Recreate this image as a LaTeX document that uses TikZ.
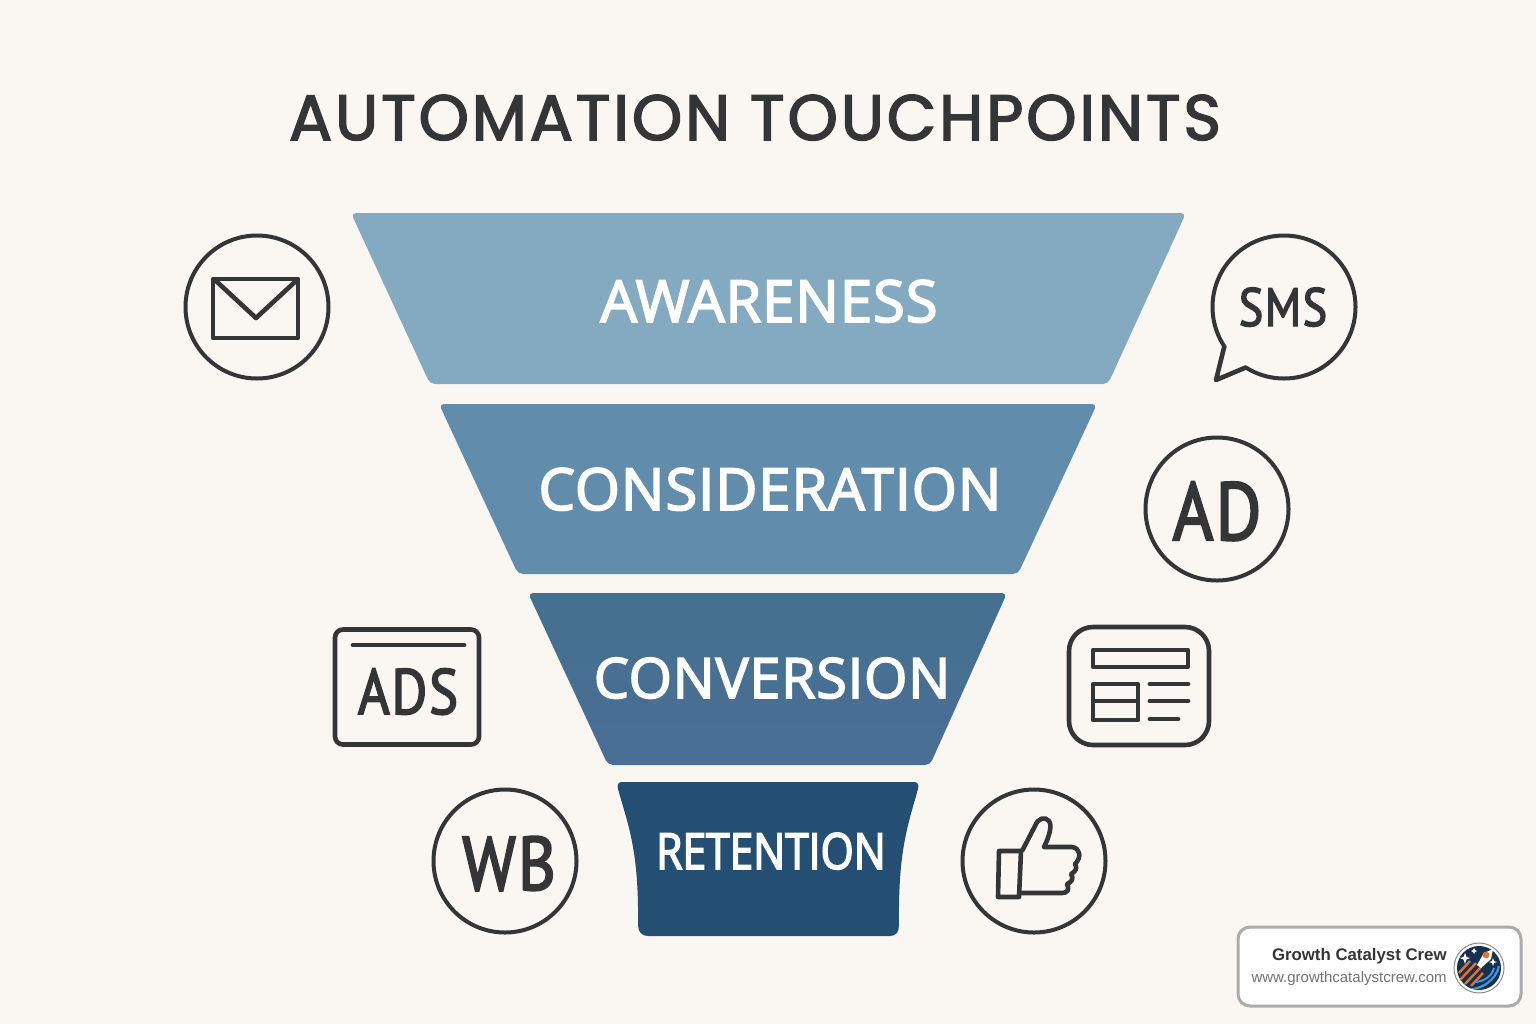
\documentclass[tikz,border=0pt]{standalone}
\usepackage{fontspec}
\setmainfont{Open Sans}
\newfontfamily\titlefont[LetterSpace=4.5,FakeBold=2.4]{Poppins}
\newfontfamily\labelfont[FakeBold=3,LetterSpace=1.5]{Open Sans}
\newfontfamily\narrowfont[FakeBold=3,FakeStretch=0.85]{Open Sans}
\newfontfamily\glyphfont[FakeBold=2.5,FakeStretch=0.85,LetterSpace=3]{PT Sans}
\newfontfamily\badgefont{Liberation Sans}
\definecolor{paper}{HTML}{FAF7F3}
\definecolor{ink}{HTML}{333537}
\definecolor{bandA}{HTML}{84AAC2}
\definecolor{bandB}{HTML}{628CAC}
\definecolor{bandC}{HTML}{44708F}
\definecolor{bandCb}{HTML}{4A6F95}
\definecolor{bandD}{HTML}{244F72}
\definecolor{logonavy}{HTML}{16304F}
\definecolor{logoblue}{HTML}{3F97DC}
\definecolor{logoorange}{HTML}{E8722A}
\begin{document}
\begin{tikzpicture}[x=0.5pt,y=-0.5pt,
ring/.style={circle,draw=ink,line width=2pt,minimum size=71.5pt,inner sep=0pt},
outline/.style={draw=ink,line width=2.3pt,line join=round},
strip/.style={draw=ink,line width=2.4pt,line cap=round},
band/.style={rounded corners=2.5pt},
bandlabel/.style={text=white,inner sep=0pt,anchor=base},
glyph/.style={text=ink,inner sep=0pt,anchor=base}]

\fill[paper] (0,0) rectangle (1536,1024);
\useasboundingbox (0,0) rectangle (1536,1024);

\node(title)[text=ink,inner sep=0pt,anchor=base] at (755,140) {\fontsize{32}{36}\titlefont AUTOMATION TOUCHPOINTS};

\fill[band,bandA] (351,213) -- (1186,213) -- (1108,384) -- (430,384) -- cycle;
\fill[band,bandB] (439,404) -- (1097,404) -- (1018,574) -- (518,574) -- cycle;
\shade[band,top color=bandC,bottom color=bandCb] (528,593) -- (1007,593) -- (930,765) -- (608,765) -- cycle;
\fill[bandD] (622,782) -- (914,782) .. controls (918,782) and (919,785) .. (918,789) .. controls (908,825) and (898,850) .. (899,925) .. controls (899,932) and (896,936) .. (890,936) -- (648,936) .. controls (642,936) and (638,932) .. (638,925) .. controls (639,850) and (628,825) .. (618,789) .. controls (617,785) and (618,782) .. (622,782) -- cycle;

\node(awareness)[bandlabel] at (769,322) {\fontsize{29}{32}\labelfont AWARENESS};
\node(consideration)[bandlabel] at (770,510) {\fontsize{29}{32}\labelfont CONSIDERATION};
\node(conversion)[bandlabel] at (772,698) {\fontsize{27.8}{32}\labelfont CONVERSION};
\node(retention)[bandlabel] at (771,869) {\fontsize{25}{28}\narrowfont RETENTION};

\node(mail)[ring] at (257,307) {};
\draw[outline] (213,279) rectangle (298,338);
\draw[outline] (215,280) -- (256,318) -- (297,280);

\node(sms)[ring] at (1284,307) {};
\fill[paper] (1227,344) -- (1216,380) -- (1248,364.7) -- cycle;
\draw[outline] (1224.5,345.7) -- (1216,380) -- (1246.4,367.2);
\node(smstext)[glyph] at (1283,326) {\fontsize{27}{30}\glyphfont SMS};

\node(ad)[ring] at (1217,509) {};
\node(adtext)[glyph] at (1217,540) {\fontsize{41}{44}\glyphfont AD};

\node(ads)[outline,rectangle,rounded corners=4pt,minimum width=72pt,minimum height=57.5pt,inner sep=0pt] at (407,687) {};
\draw[strip] (353,645) -- (464,645);
\node(adstext)[glyph] at (408,714) {\fontsize{32}{35}\glyphfont ADS};

\node(news)[outline,rectangle,rounded corners=12pt,minimum width=70pt,minimum height=59pt,inner sep=0pt] at (1139,686) {};
\draw[outline] (1093,650) rectangle (1188,667);
\draw[outline] (1093,684) rectangle (1138,720);
\draw[outline] (1093,701) -- (1138,701);
\draw[strip] (1150,684) -- (1188,684);
\draw[strip] (1150,701) -- (1188,701);
\draw[strip] (1150,719) -- (1178,719);

\node(wb)[ring] at (505,861) {};
\node(wbtext)[glyph] at (509,890) {\fontsize{38}{41}\glyphfont WB};

\node(like)[ring] at (1034,861) {};
\draw[outline] (999,851) -- (1021,851) -- (1019,897) -- (998,897) -- cycle;
\draw[outline] (1022,851) -- (1035,826) .. controls (1038,818) and (1045,816) .. (1049,821) .. controls (1052,825) and (1050,835) .. (1044,847) -- (1072,847) .. controls (1080,848) and (1082,857) .. (1075,864) .. controls (1078,868) and (1075,872) .. (1071,874) .. controls (1074,878) and (1072,882) .. (1067,884) .. controls (1070,890) and (1067,893) .. (1062,893) -- (1020,893);

\fill[white,rounded corners=6pt] (1238,927) rectangle (1521,1006);
\draw[draw=black!33,line width=1.5pt,rounded corners=6pt] (1238,927) rectangle (1521,1006);
\node(brand)[text=ink,inner sep=0pt,anchor=base east] at (1447,960) {\fontsize{8.4}{10}\badgefont\bfseries Growth Catalyst Crew};
\node(site)[text=black!55,inner sep=0pt,anchor=base east] at (1447,982) {\fontsize{7.5}{10}\badgefont www.growthcatalystcrew.com};

\node(logo)[circle,draw=black!45,fill=white,line width=0.5pt,minimum size=25pt,inner sep=0pt] at (1479,968) {};
\node(logoback)[circle,fill=logonavy,minimum size=22pt,inner sep=0pt] at (1479,968) {};
\begin{scope}
\clip (logoback.center) circle [radius=11pt];
\draw[logoorange,line width=1.2pt] (1459,973) -- (1470,961);
\draw[logoorange,line width=1.2pt] (1460,980) -- (1476,963);
\draw[logoorange,line width=1.2pt] (1465,984) -- (1481,967);
\draw[logoorange,line width=1.2pt] (1471,986) -- (1483,973);
\draw[logoblue,line width=1.1pt] (1464,990) .. controls (1482,990) and (1496,980) .. (1499,966);
\draw[logoblue,line width=1.1pt] (1472,994) .. controls (1488,994) and (1501,985) .. (1504,973);
\draw[logoblue,line width=1pt] (1474,982) .. controls (1484,982) and (1492,976) .. (1494,968);
\end{scope}
\fill[white] (1477,965) -- (1484,953) -- (1493,949) -- (1491,959) -- (1481,968) -- cycle;
\fill[logoorange] (1486,955) circle [radius=1.7pt];
\fill[white] (1465,953) -- (1466.5,957) -- (1470,958) -- (1466.5,959.5) -- (1465,964) -- (1463.5,959.5) -- (1460,958) -- (1463.5,957) -- cycle;
\fill[white] (1493,958) -- (1494,961) -- (1497,962) -- (1494,963) -- (1493,966) -- (1492,963) -- (1489,962) -- (1492,961) -- cycle;
\fill[white] (1474,948) -- (1475,950) -- (1477,951) -- (1475,952) -- (1474,954) -- (1473,952) -- (1471,951) -- (1473,950) -- cycle;
\end{tikzpicture}
\end{document}
